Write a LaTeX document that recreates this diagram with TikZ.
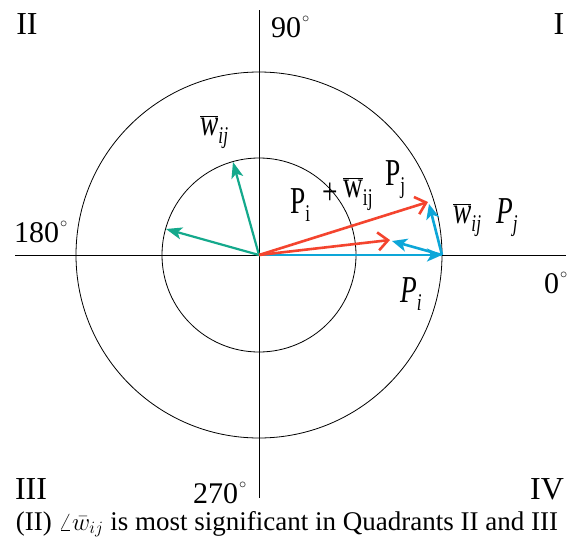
\documentclass[tikz,border=0pt]{standalone}
\usepackage{fontspec}
\setmainfont{Liberation Serif}
\usetikzlibrary{arrows.meta}
\definecolor{tealarr}{HTML}{14A98C}
\definecolor{redarr}{HTML}{F4442E}
\definecolor{bluearr}{HTML}{0DA6D8}
\newcommand{\cond}[1]{\scalebox{0.72}[1]{#1}}
\newcommand{\subtxt}[1]{\raisebox{-8pt}{\fontsize{24}{26}\selectfont #1}}
\newcommand{\wbarit}{$\overline{\mbox{\itshape w}}$}
\newcommand{\wbarup}{$\overline{\mbox{w}}$}
\newcommand{\dg}{\hspace{1pt}\raisebox{15pt}{\fontsize{15}{15}\selectfont$\circ$}}
\begin{document}
\begin{tikzpicture}[x=1pt,y=-1pt,
  thinline/.style={line width=0.8pt,black},
  quad/.style={font=\fontsize{32}{36}\selectfont,inner sep=0pt},
  deg/.style={font=\fontsize{30}{34}\selectfont,inner sep=0pt,anchor=base west},
  lab/.style={font=\fontsize{38}{42}\selectfont,inner sep=0pt,anchor=base west},
  tealv/.style={line width=2.2pt,tealarr,-{Stealth[length=16pt,width=12pt,inset=4pt]}},
  bluev/.style={line width=2.6pt,bluearr,-{Stealth[length=15pt,width=13pt,inset=4pt]}},
  redv/.style={line width=2.6pt,redarr,-{Straight Barb[length=10pt,width=18pt]}}]
\useasboundingbox (0,0) rectangle (574,541);
\fill[white] (0,0) rectangle (574,541);
% axes and circles
\coordinate (O) at (259,255);
\coordinate (axL) at (15,255);
\coordinate (axR) at (566,255);
\coordinate (axT) at (259,10);
\coordinate (axB) at (259,498);
\draw[thinline] (axL) -- (axR);
\draw[thinline] (axT) -- (axB);
\draw[thinline] (O) circle (183);
\draw[thinline] (O) circle (97);
% vectors
\coordinate (tA) at (233,162);
\coordinate (tB) at (166,229);
\coordinate (Pi) at (442,255);
\coordinate (wA) at (429,204);
\coordinate (wB) at (392,241);
\coordinate (rA) at (428,202);
\coordinate (rB) at (390,240);
\draw[tealv] (O) -- (tA);
\draw[tealv] (O) -- (tB);
\draw[bluev] (O) -- (Pi);
\draw[bluev] (Pi) -- (wA);
\draw[bluev] (Pi) -- (wB);
\draw[redv] (O) -- (rA);
\draw[redv] (O) -- (rB);
% quadrant labels
\node[quad] (qII) at (27,24) {II};
\node[quad] (qI) at (559,24) {I};
\node[quad] (qIII) at (31,489) {III};
\node[quad] (qIV) at (547,489) {IV};
% degree labels
\node[deg] (d90) at (271,37) {90\dg};
\node[deg] (d180) at (14,242) {180\dg};
\node[deg] (d0) at (544,293) {0\dg};
\node[deg] (d270) at (193,503) {270\dg};
% vector labels
\node[lab] (lw) at (200,135) {\cond{\wbarit\subtxt{\itshape ij}}};
\node[lab] (lw2) at (453,223) {\cond{\wbarit\subtxt{\itshape ij}}};
\node[lab] (lpj) at (496,223) {\cond{\itshape P\subtxt{j}}};
\node[lab] (lpi) at (400,302) {\cond{\itshape P\subtxt{i}}};
\node[lab] (sPi) at (290,213) {\cond{P\subtxt{i}}};
\node[lab,anchor=center] (splus) at (330,194) {\cond{+}};
\node[lab] (sw) at (343,197) {\cond{\wbarup\subtxt{ij}}};
\node[lab] (sPj) at (385,185) {\cond{P\subtxt{j}}};
% caption
\node[font=\fontsize{27}{30}\selectfont,inner sep=0pt,anchor=base] (cap) at (287,530) {(II) $\angle\bar{w}_{ij}$ is most significant in Quadrants II and III};
\end{tikzpicture}
\end{document}
